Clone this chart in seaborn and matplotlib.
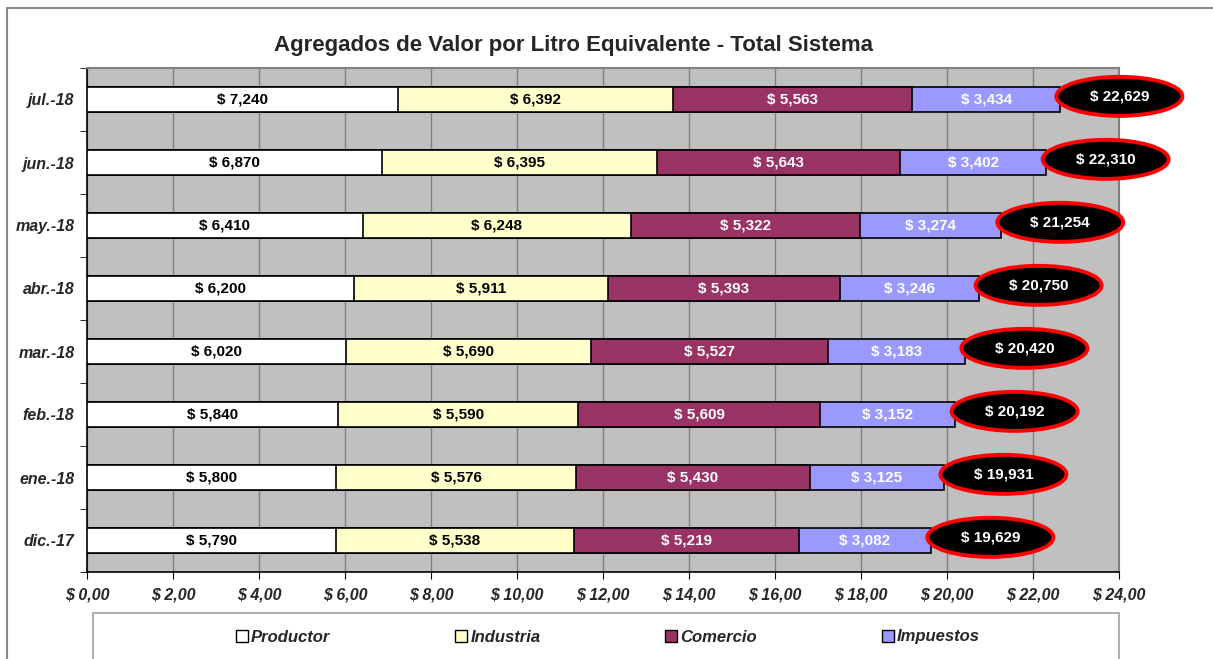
import numpy as np
import seaborn as sns
import matplotlib.pyplot as plt
from matplotlib.patches import Ellipse, Rectangle, Patch
from matplotlib.lines import Line2D

months = ['jul.-18', 'jun.-18', 'may.-18', 'abr.-18', 'mar.-18', 'feb.-18', 'ene.-18', 'dic.-17']
productor = [7240, 6870, 6410, 6200, 6020, 5840, 5800, 5790]
industria = [6392, 6395, 6248, 5911, 5690, 5590, 5576, 5538]
comercio = [5563, 5643, 5322, 5393, 5527, 5609, 5430, 5219]
impuestos = [3434, 3402, 3274, 3246, 3183, 3152, 3125, 3082]
totales = [22629, 22310, 21254, 20750, 20420, 20192, 19931, 19629]

series = ['Productor', 'Industria', 'Comercio', 'Impuestos']
colors = ['#FFFFFF', '#FFFFCC', '#993366', '#9999FF']
text_colors = ['black', 'black', 'white', 'white']
x_ticks = np.arange(0, 25, 2)

sns.set_style("ticks")
plt.rcParams['font.family'] = ['Liberation Sans', 'DejaVu Sans']

W, H = 1213, 659
fig = plt.figure(figsize=(W / 100, H / 100), dpi=100)
ax = fig.add_axes([87 / W, 1 - 572 / H, (1119 - 87) / W, (572 - 68) / H])
ax.set_facecolor('#C0C0C0')

# stacked bars: draw cumulative sums from longest to shortest
vals = [np.array(v) / 1000 for v in (productor, industria, comercio, impuestos)]
cums = np.cumsum(vals, axis=0)
for i in range(3, -1, -1):
    sns.barplot(x=cums[i], y=months, orient='h', color=colors[i], saturation=1,
                width=0.4, edgecolor='black', linewidth=1.2, ax=ax, zorder=3)

# segment labels
for i in range(4):
    for j in range(len(months)):
        start = cums[i][j] - vals[i][j]
        ax.text(start + vals[i][j] / 2, j, f"$ {int(round(vals[i][j] * 1000)):,}",
                ha='center', va='center', fontsize=11, fontweight='bold',
                color=text_colors[i], zorder=5)

# total ellipses
for j, t in enumerate(totales):
    tv = t / 1000
    e = Ellipse((tv + 1.38, j - 0.05), 2.93, 0.62, facecolor='black', edgecolor='red',
                lw=2.8, zorder=6, clip_on=False)
    ax.add_patch(e)
    ax.text(tv + 1.38, j - 0.05, f"$ {t:,}", ha='center', va='center', fontsize=11,
            fontweight='bold', color='white', zorder=7, clip_on=False)

ax.set_xlim(0, 24)
ax.set_ylim(len(months) - 0.5, -0.5)
ax.set_xticks(x_ticks)
ax.set_xticklabels([f"$ {v:.2f}".replace('.', ',') for v in x_ticks],
                   fontsize=11.5, fontweight='bold', fontstyle='italic')
ax.set_yticks(range(len(months)))
ax.set_yticklabels(months, fontsize=11.5, fontweight='bold', fontstyle='italic')
ax.set_yticks(np.arange(-0.5, len(months)), minor=True)
ax.tick_params(axis='y', which='major', length=0, pad=9)
ax.tick_params(axis='y', which='minor', length=5, color='black')
ax.tick_params(axis='x', length=5, color='black', pad=6)
ax.set_xlabel('')
ax.set_ylabel('')
ax.grid(axis='x', color='#7F7F7F', lw=1, zorder=0)
ax.set_axisbelow(True)
for s in ['left', 'bottom']:
    ax.spines[s].set_color('black')
    ax.spines[s].set_linewidth(1.2)
for s in ['top', 'right']:
    ax.spines[s].set_visible(True)
    ax.spines[s].set_color('#808080')
    ax.spines[s].set_linewidth(1.5)

fig.text(574 / W, 1 - 46 / H, 'Agregados de Valor por Litro Equivalente - Total Sistema',
         ha='center', va='center', fontsize=16, fontweight='bold')

# chart border
fig.add_artist(Line2D([7 / W, 1], [1 - 8 / H, 1 - 8 / H], color='#888888', lw=1.5))
fig.add_artist(Line2D([7 / W, 7 / W], [0, 1 - 8 / H], color='#888888', lw=1.5))

# legend box
fig.add_artist(Rectangle((93 / W, -0.05), (1119 - 93) / W, 0.05 + 1 - 613 / H,
                         transform=fig.transFigure, facecolor='white',
                         edgecolor='#A0A0A0', lw=1.2))
handles = [Patch(facecolor=c, edgecolor='black', lw=1) for c in colors]
fig.legend(handles, series, loc='center', bbox_to_anchor=(608 / W, 1 - 637 / H),
           ncol=4, frameon=False, handlelength=0.7, handleheight=0.7,
           handletextpad=0.2, columnspacing=7.5,
           prop={'size': 12, 'weight': 'bold', 'style': 'italic'})

plt.savefig("out.png", dpi=100)
